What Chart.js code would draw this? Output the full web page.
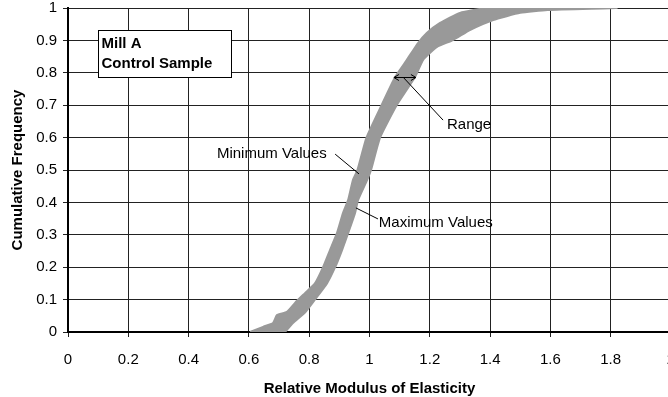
<!DOCTYPE html>
<html>
<head>
<meta charset="utf-8">
<script src="https://cdn.jsdelivr.net/npm/chart.js@4"></script>
<style>
  html, body { margin: 0; padding: 0; background: #fff; overflow: hidden; }
  #wrap { width: 700px; height: 397px; position: relative; }
</style>
</head>
<body>
<div id="wrap"><canvas id="cdf"></canvas></div>
<script>
// left edge of the band (minimum values)
const minEdgeX = [0.604, 0.647, 0.68, 0.693, 0.726, 0.753, 0.786, 0.819, 0.846, 0.869, 0.892, 0.912, 0.929, 0.945, 0.96, 0.99, 1.04, 1.085, 1.124, 1.161, 1.19, 1.234, 1.30, 1.39];
const minEdgeY = [0, 0.016, 0.028, 0.052, 0.062, 0.09, 0.12, 0.15, 0.2, 0.253, 0.305, 0.367, 0.407, 0.469, 0.5, 0.6, 0.7, 0.787, 0.84, 0.892, 0.923, 0.954, 0.985, 1.0];
// right edge of the band (maximum values)
const maxEdgeX = [0.72, 0.746, 0.786, 0.819, 0.859, 0.886, 0.909, 0.929, 0.952, 0.962, 0.992, 1.005, 1.035, 1.09, 1.151, 1.178, 1.224, 1.277, 1.333, 1.41, 1.5, 1.59, 1.82];
const maxEdgeY = [0, 0.028, 0.06, 0.1, 0.15, 0.2, 0.253, 0.305, 0.367, 0.407, 0.469, 0.5, 0.6, 0.7, 0.787, 0.84, 0.88, 0.901, 0.932, 0.963, 0.985, 0.994, 1.0];

const xTicks = [0, 0.2, 0.4, 0.6, 0.8, 1, 1.2, 1.4, 1.6, 1.8, 2];
const yTicks = [0, 0.1, 0.2, 0.3, 0.4, 0.5, 0.6, 0.7, 0.8, 0.9, 1];

const FONT = "'Liberation Sans', Arial, sans-serif";
const GREY = 'rgb(153,153,153)';

// band outline: up the minimum curve, back down the maximum curve
const bandPts = [];
minEdgeX.forEach((v, i) => bandPts.push({ x: v, y: minEdgeY[i] }));
for (let i = maxEdgeX.length - 1; i >= 0; i--) bandPts.push({ x: maxEdgeX[i], y: maxEdgeY[i] });

const notes = {
  id: 'notes',
  afterDatasetsDraw(chart) {
    const { ctx, scales: { x, y } } = chart;
    const px = v => x.getPixelForValue(v);
    const py = v => y.getPixelForValue(v);
    ctx.save();
    ctx.strokeStyle = '#000';
    ctx.fillStyle = '#000';
    ctx.lineWidth = 1;

    // label box
    const bx = Math.round(px(0.1)) + 0.5, by = Math.round(py(0.932)) + 0.5;
    const bw = Math.round(px(0.54) - px(0.1)), bh = Math.round(py(0.787) - py(0.932));
    ctx.fillStyle = '#fff';
    ctx.fillRect(bx, by, bw, bh);
    ctx.strokeRect(bx, by, bw, bh);
    ctx.fillStyle = '#000';
    ctx.font = 'bold 15px ' + FONT;
    ctx.textBaseline = 'middle';
    ctx.fillText('Mill A', bx + 3, by + 13);
    ctx.fillText('Control Sample', bx + 3, by + 33);

    ctx.font = '15px ' + FONT;
    const line = (x1, y1, x2, y2) => {
      ctx.beginPath();
      ctx.moveTo(px(x1), py(y1));
      ctx.lineTo(px(x2), py(y2));
      ctx.stroke();
    };

    // minimum values
    ctx.fillText('Minimum Values', px(0.494), py(0.549));
    line(0.886, 0.549, 0.965, 0.488);
    // maximum values
    ctx.fillText('Maximum Values', px(1.031), py(0.336));
    line(0.955, 0.383, 1.028, 0.349);
    // range
    ctx.fillText('Range', px(1.257), py(0.639));
    line(1.111, 0.787, 1.244, 0.654);

    // double arrow across the band
    const ay = Math.round(py(0.787)) + 0.5;
    const a1 = px(1.081), a2 = px(1.154);
    ctx.beginPath();
    ctx.moveTo(a1, ay); ctx.lineTo(a2, ay);
    ctx.moveTo(a1 + 5, ay - 3); ctx.lineTo(a1, ay); ctx.lineTo(a1 + 5, ay + 3);
    ctx.moveTo(a2 - 5, ay - 3); ctx.lineTo(a2, ay); ctx.lineTo(a2 - 5, ay + 3);
    ctx.stroke();
    ctx.restore();
  }
};

new Chart(document.getElementById('cdf'), {
  type: 'scatter',
  data: {
    datasets: [{
      label: 'Range',
      data: bandPts,
      showLine: true,
      fill: 'shape',
      backgroundColor: GREY,
      borderColor: GREY,
      borderWidth: 2,
      pointRadius: 0,
      tension: 0.15
    }]
  },
  plugins: [notes],
  options: {
    responsive: true,
    maintainAspectRatio: false,
    animation: false,
    layout: { padding: { top: 8, right: 29, left: 0, bottom: 0 } },
    plugins: { legend: { display: false }, tooltip: { enabled: false } },
    scales: {
      x: {
        type: 'linear', min: 0, max: 2,
        afterBuildTicks: s => { s.ticks = xTicks.map(v => ({ value: v })); },
        afterFit: s => { s.height = 65; },
        ticks: { color: '#000', padding: 14, maxRotation: 0, font: { family: FONT, size: 15 }, callback: v => String(v) },
        grid: { color: '#222', lineWidth: 1, tickLength: 5 },
        border: { color: '#000', width: 2 },
        title: { display: true, text: 'Relative Modulus of Elasticity', color: '#000', padding: { top: 0, bottom: -1 }, font: { family: FONT, size: 15, weight: 'bold' } }
      },
      y: {
        type: 'linear', min: 0, max: 1,
        afterBuildTicks: s => { s.ticks = yTicks.map(v => ({ value: v })); },
        afterFit: s => { s.width = 68; s.paddingTop = 0; s.paddingBottom = 0; },
        ticks: { color: '#000', padding: 6, font: { family: FONT, size: 15 }, callback: v => String(v) },
        grid: { color: '#222', lineWidth: 1, tickLength: 5 },
        border: { color: '#000', width: 2 },
        title: { display: true, text: 'Cumulative Frequency', color: '#000', padding: { top: 9, bottom: 0 }, font: { family: FONT, size: 15, weight: 'bold' } }
      }
    }
  }
});
</script>
</body>
</html>
